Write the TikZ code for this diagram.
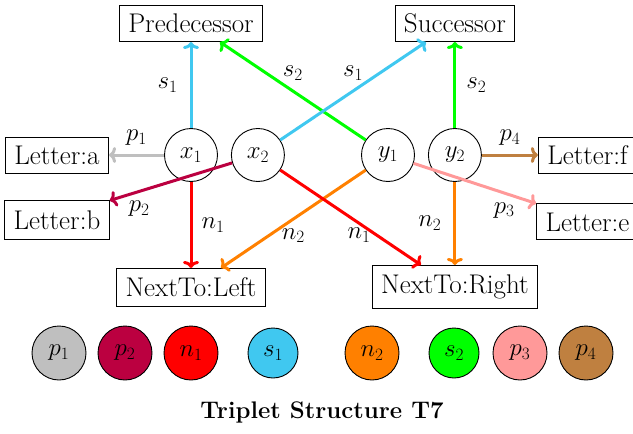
\documentclass[tikz,border=0pt]{standalone}
\usetikzlibrary{arrows.meta, positioning}
\definecolor{pgray}{RGB}{191, 191, 191}
\definecolor{pcrimson}{RGB}{187, 0, 64}
\definecolor{nred}{RGB}{255, 0, 0}
\definecolor{scyan}{RGB}{64, 200, 240}
\definecolor{norange}{RGB}{255, 128, 0}
\definecolor{sgreen}{RGB}{0, 255, 0}
\definecolor{ppink}{RGB}{255, 153, 153}
\definecolor{pbrown}{RGB}{191, 128, 64}
\tikzset{
	lbox/.style={rectangle, draw, line width=0.9pt, inner xsep=9pt, inner ysep=0pt, minimum height=36pt, font=\fontsize{27}{31}\selectfont},
	var/.style={circle, draw, line width=0.9pt, inner sep=0pt, minimum size=53pt, font=\fontsize{25}{29}\selectfont},
	key/.style={circle, draw, line width=0.9pt, inner sep=0pt, minimum size=54pt, font=\fontsize{24}{28}\selectfont},
	link/.style={-{To[length=7pt, width=16pt]}, line width=3pt},
	lab/.style={inner sep=0pt, text=black, font=\fontsize{23}{27}\selectfont},
}
\begin{document}
\begin{tikzpicture}[x=1pt, y=-1pt]
		\useasboundingbox (0,0) rectangle (633,434);
		\node[var] (x1) at (191,155) {$x_1$};
		\node[var, right=13pt of x1] (x2) {$x_2$};
		\node[var] (y1) at (388,155) {$y_1$};
		\node[var, right=13pt of y1] (y2) {$y_2$};
		\node[lbox, above=86pt of x1] (pred) {Predecessor};
		\node[lbox, above=86pt of y2] (succ) {Successor};
		\node[lbox, left=55pt of x1] (leta) {Letter:a};
		\node[lbox, below=27pt of leta, minimum height=39pt] (letb) {Letter:b};
		\node[lbox, right=56pt of y2] (letf) {Letter:f};
		\node[lbox, below=30pt of letf] (lete) {Letter:e};
		\node[lbox, below=86pt of x1, minimum height=38pt] (left) {NextTo:Left};
		\node[lbox, below=83pt of y2, minimum height=43pt] (right) {NextTo:Right};
		\draw[link, scyan] (x1) -- node[lab, left=12pt] {$s_1$} (pred);
		\draw[link, sgreen] (y1) -- node[lab, above=9pt] {$s_2$} ([xshift=29pt]pred.south);
		\draw[link, scyan] (x2) -- node[lab, above=9pt] {$s_1$} ([xshift=-29pt]succ.south);
		\draw[link, sgreen] (y2) -- node[lab, right=10pt] {$s_2$} (succ);
		\draw[link, pgray] (x1) -- node[lab, above=8pt] {$p_1$} (leta);
		\draw[link, pcrimson] (x2) -- node[lab, below=8pt, pos=0.76] {$p_2$} (letb.north east);
		\draw[link, nred] (x1) -- node[lab, right=9pt] {$n_1$} (left);
		\draw[link, norange] (y1) -- node[lab, below=8pt] {$n_2$} ([xshift=30pt]left.north);
		\draw[link, nred] (x2) -- node[lab, below=3pt, pos=0.56] {$n_1$} ([xshift=-34pt]right.north);
		\draw[link, norange] (y2) -- node[lab, left=12pt] {$n_2$} (right);
		\draw[link, pbrown] (y2) -- node[lab, above=8pt] {$p_4$} (letf);
		\draw[link, ppink] (y1) -- node[lab, below=8pt, pos=0.74] {$p_3$} (lete.north west);
		% legend
		\node[key, fill=pgray] (kp1) at (59,353) {$p_1$};
		\node[key, fill=pcrimson] (kp2) at (125,353) {$p_2$};
		\node[key, fill=nred] (kn1) at (191,353) {$n_1$};
		\node[key, fill=scyan, minimum size=50pt] (ks1) at (273,353) {$s_1$};
		\node[key, fill=norange] (kn2) at (372,353) {$n_2$};
		\node[key, fill=sgreen, minimum size=50pt] (ks2) at (454,353) {$s_2$};
		\node[key, fill=ppink] (kp3) at (520,353) {$p_3$};
		\node[key, fill=pbrown] (kp4) at (586,353) {$p_4$};
		\node[font=\bfseries\fontsize{24}{28}\selectfont] (title) at (322,412) {Triplet Structure T7};
	\end{tikzpicture}
\end{document}
